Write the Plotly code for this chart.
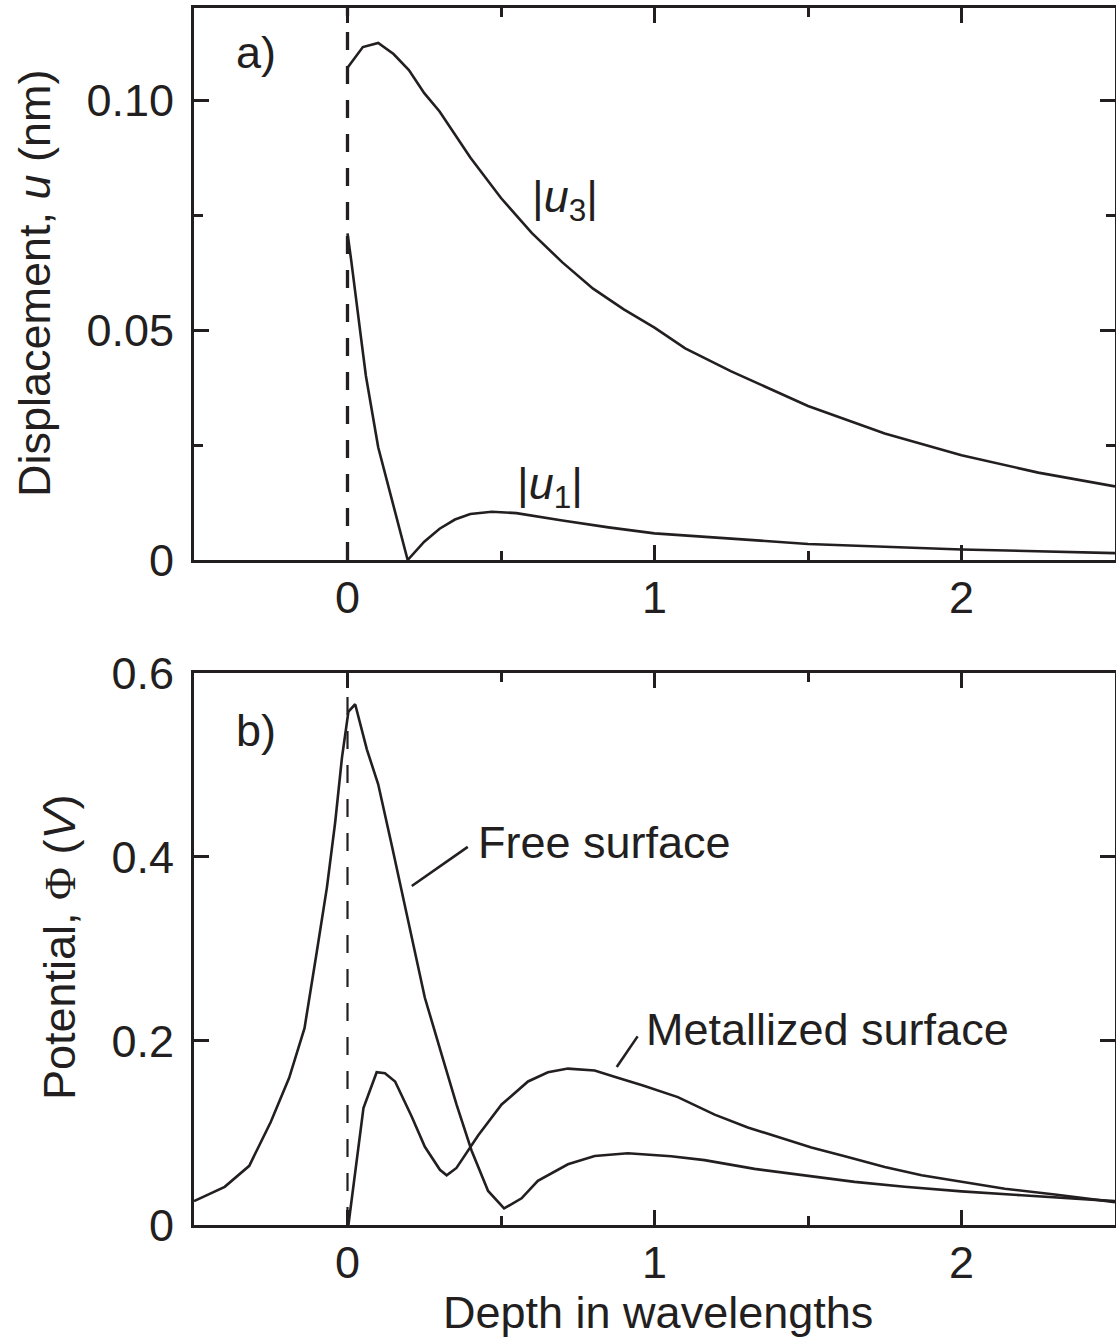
import plotly.graph_objects as go

# ---- panel a): displacement components vs depth ----
depth_u3 = [0, 0.05, 0.1, 0.15, 0.2, 0.25, 0.3, 0.4, 0.5, 0.6, 0.7, 0.8, 0.9,
            1.0, 1.1, 1.25, 1.5, 1.75, 2.0, 2.25, 2.5]
u3 = [0.107, 0.1115, 0.1124, 0.110, 0.1065, 0.1015, 0.0975, 0.0875, 0.0787,
      0.0711, 0.0647, 0.059, 0.0545, 0.0505, 0.0460, 0.0410, 0.0335, 0.0275,
      0.0228, 0.0190, 0.0160]

depth_u1 = [0, 0.012, 0.045, 0.06, 0.1, 0.15, 0.196, 0.25, 0.3, 0.35, 0.4,
            0.47, 0.55, 0.7, 0.85, 1.0, 1.25, 1.5, 2.0, 2.5]
u1 = [0.071, 0.0652, 0.0478, 0.040, 0.0245, 0.012, 0.0, 0.004, 0.0068, 0.0088,
      0.0100, 0.0105, 0.0102, 0.0086, 0.0071, 0.0058, 0.0046, 0.0035, 0.0023,
      0.0015]

# ---- panel b): electric potential vs depth ----
depth_free = [-0.5, -0.4, -0.32, -0.25, -0.19, -0.14, -0.1, -0.067, -0.04,
              -0.018, 0.003, 0.025, 0.063, 0.1, 0.144, 0.198, 0.252, 0.307,
              0.355, 0.404, 0.458, 0.51, 0.567, 0.62, 0.718, 0.805, 0.913,
              1.054, 1.163, 1.326, 1.489, 1.652, 1.815, 2.0, 2.196, 2.5]
phi_free = [0.026, 0.0415, 0.0643, 0.112, 0.160, 0.214, 0.297, 0.367, 0.438,
            0.508, 0.558, 0.566, 0.517, 0.479, 0.413, 0.330, 0.247, 0.185,
            0.131, 0.081, 0.037, 0.018, 0.029, 0.048, 0.066, 0.075, 0.078,
            0.0747, 0.0705, 0.061, 0.054, 0.0469, 0.0415, 0.0365, 0.0324, 0.026]

depth_metal = [0.003, 0.052, 0.095, 0.122, 0.155, 0.209, 0.252, 0.301, 0.323,
               0.355, 0.426, 0.502, 0.588, 0.653, 0.718, 0.805, 0.88, 0.96,
               1.076, 1.196, 1.304, 1.402, 1.511, 1.62, 1.75, 1.87, 2.0, 2.141,
               2.304, 2.5]
phi_metal = [0.0, 0.127, 0.166, 0.165, 0.156, 0.118, 0.085, 0.060, 0.054,
             0.062, 0.0975, 0.131, 0.156, 0.166, 0.170, 0.168, 0.160, 0.152,
             0.139, 0.120, 0.106, 0.0954, 0.0842, 0.0747, 0.063, 0.054, 0.0469,
             0.0394, 0.0332, 0.0249]

x_ticks = [0, 1, 2]
x_minor = [0.5, 1.5]
ya_ticks = [0, 0.05, 0.10]
ya_labels = ["0", "0.05", "0.10"]
ya_minor = [0.025, 0.075]
yb_ticks = [0, 0.2, 0.4, 0.6]
yb_labels = ["0", "0.2", "0.4", "0.6"]

INK = "#231f20"
FONT = "Liberation Sans, Arial, Helvetica, sans-serif"
FS = 45

fig = go.Figure()
line = dict(color=INK, width=2.6)
fig.add_trace(go.Scatter(x=depth_u3, y=u3, mode="lines", line=line,
                         xaxis="x", yaxis="y", showlegend=False))
fig.add_trace(go.Scatter(x=depth_u1, y=u1, mode="lines", line=line,
                         xaxis="x", yaxis="y", showlegend=False))
fig.add_trace(go.Scatter(x=depth_free, y=phi_free, mode="lines", line=line,
                         xaxis="x2", yaxis="y2", showlegend=False))
fig.add_trace(go.Scatter(x=depth_metal, y=phi_metal, mode="lines", line=line,
                         xaxis="x2", yaxis="y2", showlegend=False))

axis_common = dict(
    showline=True, linecolor=INK, linewidth=3, mirror="ticks",
    ticks="inside", ticklen=15, tickwidth=3, tickcolor=INK,
    showgrid=False, zeroline=False, automargin=False,
    tickfont=dict(family=FONT, size=FS, color=INK),
)
x_common = dict(axis_common, range=[-0.5, 2.5], tickmode="array",
                tickvals=x_ticks, ticktext=[str(v) for v in x_ticks],
                ticklabelstandoff=-4,
                minor=dict(tickmode="array", tickvals=x_minor, ticks="inside",
                           ticklen=9, tickwidth=3, tickcolor=INK))

fig.update_layout(
    width=1116, height=1340,
    margin=dict(l=194, r=1, t=8, b=115),
    paper_bgcolor="white", plot_bgcolor="white",
    font=dict(family=FONT, size=FS, color=INK),
    xaxis=dict(x_common, anchor="y", domain=[0, 1]),
    yaxis=dict(axis_common, anchor="x", domain=[0.5464, 1], range=[0, 0.12],
               tickmode="array", tickvals=ya_ticks, ticktext=ya_labels,
               ticklabelstandoff=8,
               minor=dict(tickmode="array", tickvals=ya_minor, ticks="inside",
                          ticklen=9, tickwidth=3, tickcolor=INK)),
    xaxis2=dict(x_common, anchor="y2", domain=[0, 1]),
    yaxis2=dict(axis_common, anchor="x2", domain=[0, 0.4536], range=[0, 0.6],
                tickmode="array", tickvals=yb_ticks, ticktext=yb_labels,
                ticklabelstandoff=8),
)

# surface position (depth = 0)
fig.add_shape(type="line", xref="x", yref="y domain", x0=0, x1=0, y0=0, y1=1,
              line=dict(color=INK, width=3.3, dash="18px,16px"))
fig.add_shape(type="line", xref="x2", yref="y2 domain", x0=0, x1=0, y0=0, y1=1,
              line=dict(color=INK, width=2.2, dash="18px,16px"))

# leader lines for the curve labels
fig.add_shape(type="line", xref="x2", yref="y2", x0=0.2094, y0=0.3685,
              x1=0.3918, y1=0.411, line=dict(color=INK, width=2.6))
fig.add_shape(type="line", xref="x2", yref="y2", x0=0.877, y0=0.1717,
              x1=0.945, y1=0.2050, line=dict(color=INK, width=2.6))

txt = dict(family=FONT, size=FS, color=INK)
notes = [
    dict(text="a)", xref="x", yref="y", x=-0.37, y=0.1104, xanchor="left"),
    dict(text="b)", xref="x2", yref="y2", x=-0.37, y=0.537, xanchor="left"),
    dict(text="|<i>u</i><sub>3</sub>|", xref="x", yref="y", x=0.71, y=0.0783,
         xanchor="center"),
    dict(text="|<i>u</i><sub>1</sub>|", xref="x", yref="y", x=0.661, y=0.0159,
         xanchor="center"),
    dict(text="Free surface", xref="x2", yref="y2", x=0.42, y=0.416,
         xanchor="left"),
    dict(text="Metallized surface", xref="x2", yref="y2", x=0.967, y=0.212,
         xanchor="left"),
    dict(text="Displacement, <i>u</i> (nm)", xref="paper", yref="paper",
         x=-0.1737, y=0.774, textangle=-90, xanchor="center"),
    dict(text="Potential, <span style=\"font-family:'Liberation Serif', "
              "'Times New Roman', serif\">\u03a6</span> (<i>V</i>)",
         xref="paper", yref="paper", x=-0.1466, y=0.2284, textangle=-90,
         xanchor="center"),
    dict(text="Depth in wavelengths", xref="paper", yref="paper", x=0.5038,
         y=-0.0715, xanchor="center"),
]
for n in notes:
    fig.add_annotation(showarrow=False, yanchor="middle", font=txt, **n)

fig.write_html("out.html")
